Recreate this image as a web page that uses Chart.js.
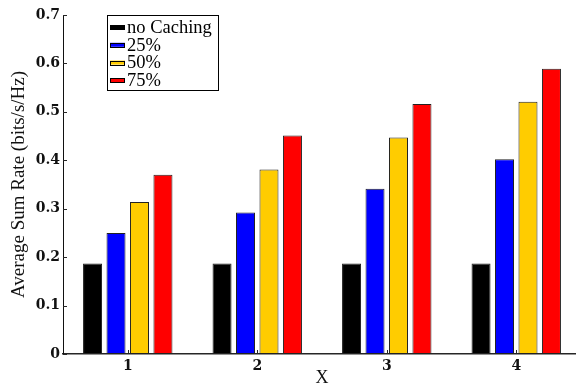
<!DOCTYPE html>
<html>
<head>
<meta charset="utf-8">
<script src="https://cdn.jsdelivr.net/npm/chart.js@4.4.1/dist/chart.umd.min.js"></script>
<style>
  html, body { margin: 0; padding: 0; background: #fff; overflow: hidden; }
  #wrap { width: 584px; height: 389px; }
</style>
</head>
<body>
<div id="wrap"><canvas id="myChart"></canvas></div>
<script>
// data
let categories = ["1", "2", "3", "4"];
let seriesNames = ["no Caching", "25%", "50%", "75%"];
let noCaching = [0.187, 0.187, 0.187, 0.187];
let cache25 = [0.250, 0.292, 0.341, 0.402];
let cache50 = [0.314, 0.381, 0.447, 0.521];
let cache75 = [0.370, 0.451, 0.516, 0.589];
let yTicks = [0, 0.1, 0.2, 0.3, 0.4, 0.5, 0.6, 0.7];

let colors = ["#000000", "#0000ff", "#ffcc00", "#ff0000"];
let seriesValues = [noCaching, cache25, cache50, cache75];

let serif = "'Liberation Serif', 'Times New Roman', serif";
let tickFont = { family: "'DejaVu Serif', serif", size: 14, weight: "bold" };

// inward tick marks, MATLAB style
let tickMarks = {
  id: "tickMarks",
  afterDraw(chart) {
    let c = chart.ctx;
    let area = chart.chartArea;
    let ys = chart.scales.y;
    let xs = chart.scales.x;
    c.save();
    c.strokeStyle = "#262626";
    c.lineWidth = 1;
    yTicks.forEach((v) => {
      let py = Math.round(ys.getPixelForValue(v)) + 0.5;
      c.beginPath();
      c.moveTo(area.left, py);
      c.lineTo(area.left + 4, py);
      c.stroke();
    });
    categories.forEach((cat, i) => {
      let px = Math.round(xs.getPixelForValue(i)) + 0.5;
      c.beginPath();
      c.moveTo(px, area.bottom);
      c.lineTo(px, area.bottom - 4);
      c.stroke();
    });
    c.restore();
  },
};

// boxed legend in the upper left of the axes
let boxLegend = {
  id: "boxLegend",
  afterDraw(chart) {
    let c = chart.ctx;
    let x0 = 107.5, y0 = 15.5, w = 111, h = 75;
    c.save();
    c.fillStyle = "#fff";
    c.fillRect(x0, y0, w, h);
    c.strokeStyle = "#000";
    c.lineWidth = 1;
    c.strokeRect(x0, y0, w, h);
    c.font = "18.5px " + serif;
    c.textBaseline = "middle";
    seriesNames.forEach((name, i) => {
      let cy = 27 + i * 17.8;
      c.fillStyle = colors[i];
      c.fillRect(110, cy - 2, 15, 4);
      c.strokeStyle = "#000";
      c.strokeRect(110.5, Math.round(cy - 2) + 0.5, 14, 4);
      c.fillStyle = "#000";
      c.fillText(name, 127, cy + 1);
    });
    c.restore();
  },
};

let ctx = document.getElementById("myChart").getContext("2d");

let data = {
  labels: categories,
  datasets: seriesNames.map((name, i) => ({
    label: name,
    data: seriesValues[i],
    backgroundColor: colors[i],
    borderColor: "#222",
    borderWidth: 1,
    borderSkipped: false,
    categoryPercentage: 0.725,
    barPercentage: 0.81,
  })),
};

let options = {
  responsive: true,
  maintainAspectRatio: false,
  animation: false,
  layout: { padding: { top: 15, right: 3, left: 0, bottom: 0 } },
  plugins: {
    legend: { display: false },
    tooltip: { enabled: false },
  },
  scales: {
    x: {
      grid: { display: false, drawTicks: false },
      border: { display: true, color: "#262626", width: 1.5 },
      ticks: { font: tickFont, color: "#111", padding: 4 },
      title: {
        display: true,
        text: "X",
        font: { family: serif, size: 18 },
        color: "#111",
        padding: { top: 0, bottom: 0 },
      },
      afterFit(scale) { scale.height = 35; },
    },
    y: {
      min: 0,
      max: 0.7,
      grid: { display: false, drawTicks: false },
      border: { display: true, color: "#111", width: 1 },
      afterBuildTicks(scale) { scale.ticks = yTicks.map((v) => ({ value: v })); },
      ticks: {
        font: tickFont,
        color: "#111",
        padding: 3,
        callback: (v) => (v === 0 ? "0" : v.toFixed(1)),
      },
      title: {
        display: true,
        text: "Average Sum Rate (bits/s/Hz)",
        font: { family: serif, size: 19 },
        color: "#111",
        padding: { top: 8, bottom: 0 },
      },
      afterFit(scale) { scale.width = 63; },
    },
  },
};

let myChart = new Chart(ctx, {
  type: "bar",
  data: data,
  options: options,
  plugins: [tickMarks, boxLegend],
});
</script>
</body>
</html>
